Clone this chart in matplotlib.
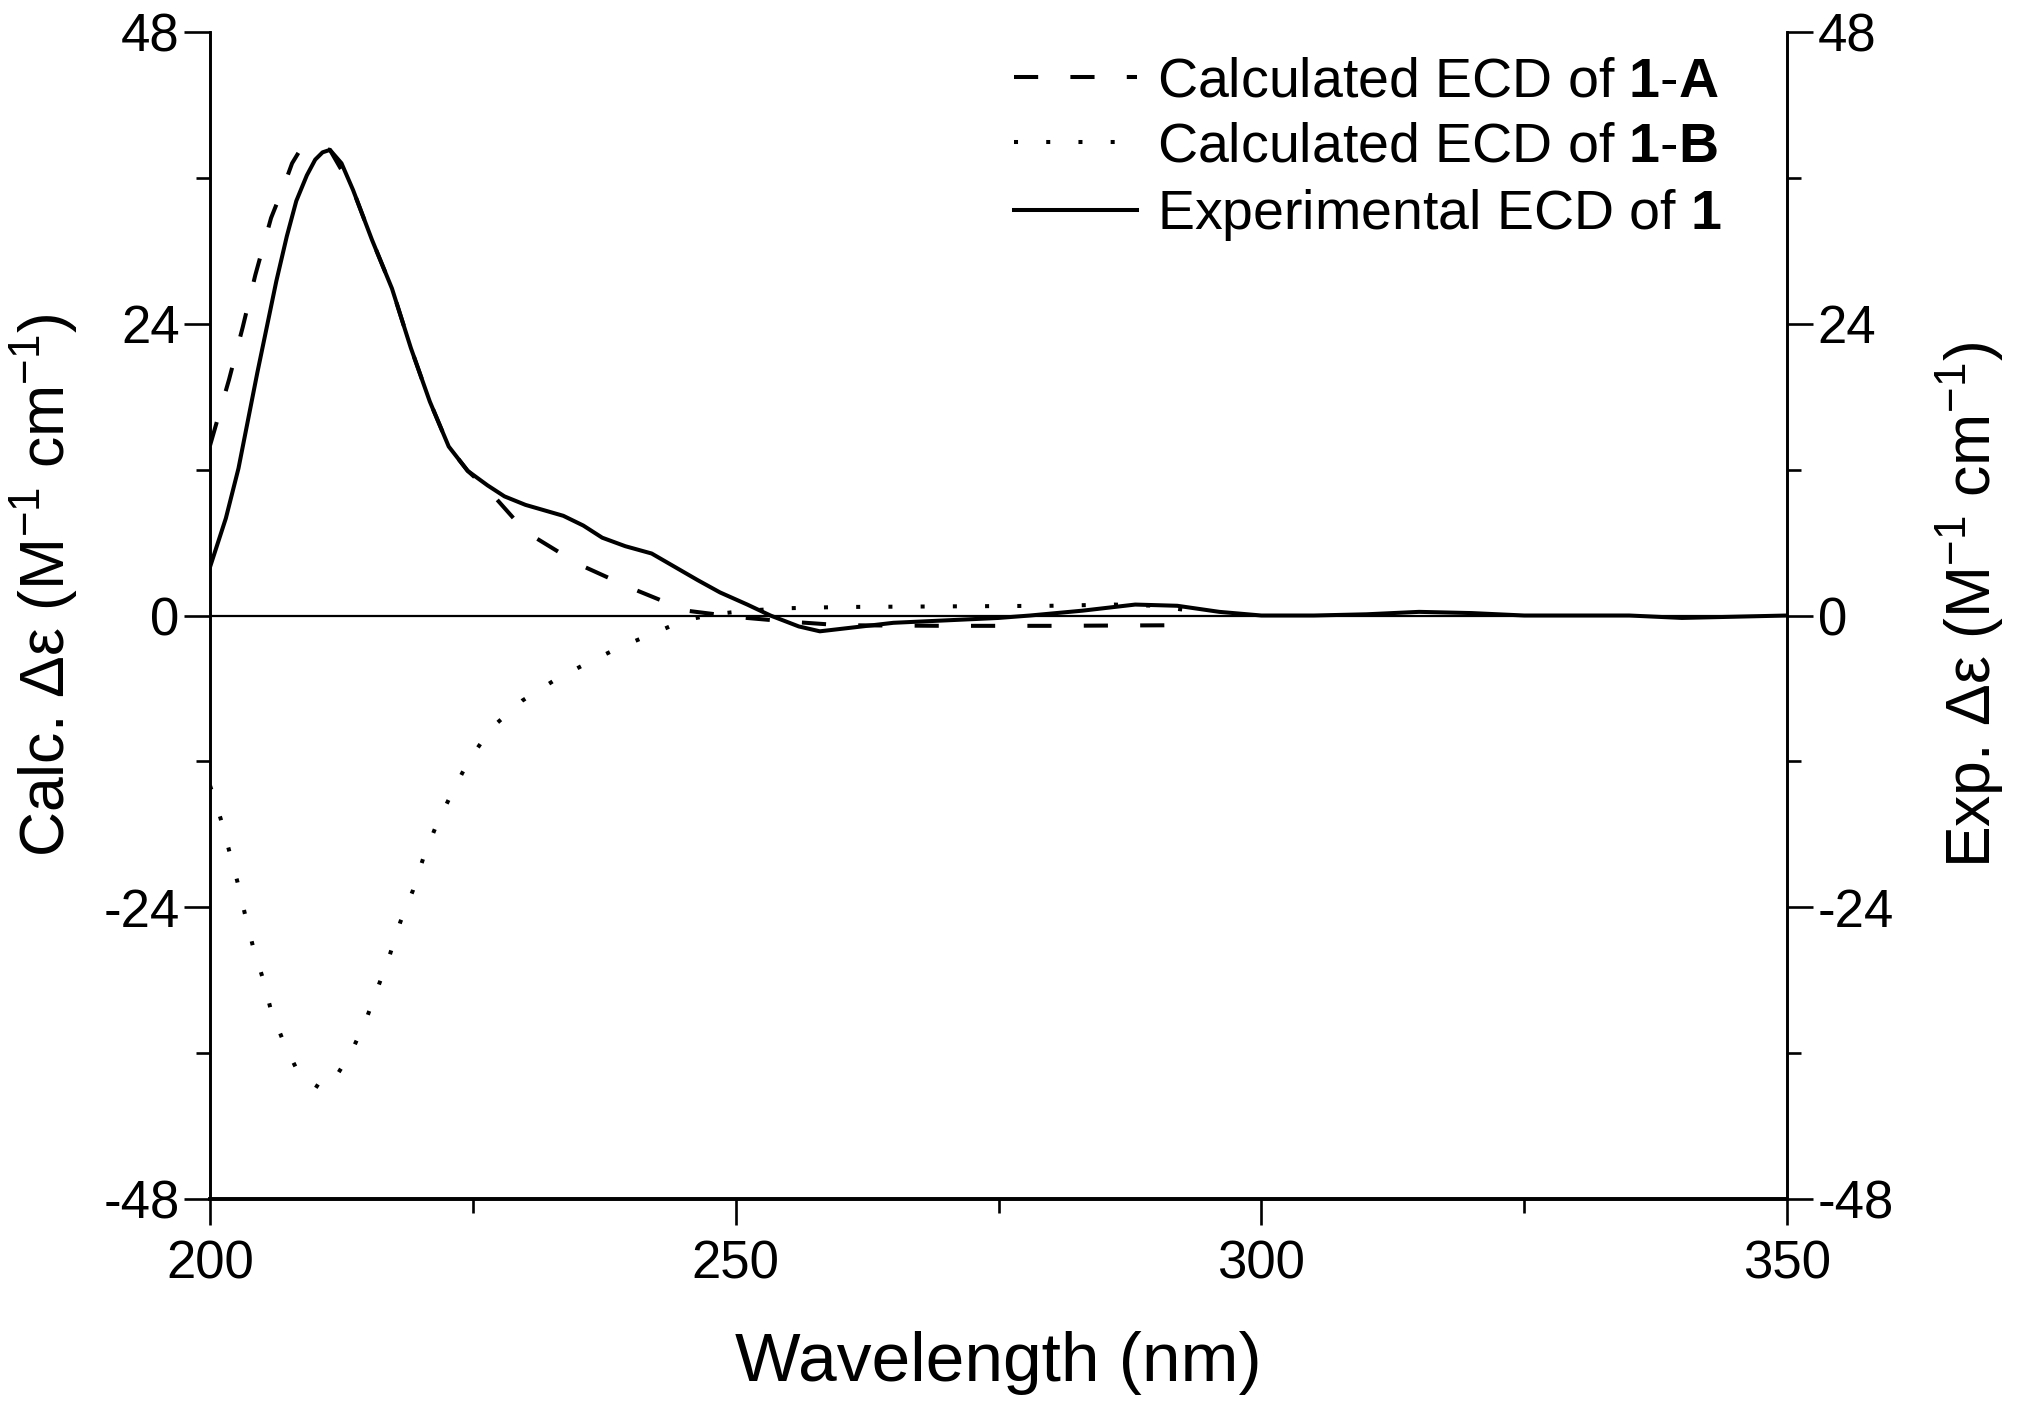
import matplotlib
matplotlib.use("Agg")
import matplotlib.pyplot as plt
from matplotlib.ticker import MultipleLocator

plt.rcParams['font.family'] = ['Liberation Sans', 'DejaVu Sans']
plt.rcParams['mathtext.fontset'] = 'custom'
plt.rcParams['mathtext.rm'] = 'Liberation Sans'
plt.rcParams['mathtext.bf'] = 'Liberation Sans:bold'
plt.rcParams['mathtext.it'] = 'Liberation Sans:italic'
plt.rcParams['axes.unicode_minus'] = False

# experimental ECD of 1 (solid)
wl_exp = [200, 201.5, 202.7, 204.5, 206.3, 207.3, 208.2, 209.2, 210.0, 210.7, 211.4, 212.5,
          213.6, 215.4, 217.3, 219.1, 220.9, 222.7, 224.5, 226.4, 228.0, 230.0, 233.6, 235.5,
          237.3, 239.5, 242.0, 244.0, 246.4, 248.5, 251.1, 253.3, 256, 258, 261, 265, 270,
          275, 278, 283, 288, 292, 296, 300, 305, 310, 315, 320, 325, 330, 335, 340, 345, 350]
exp = [4.0, 8.0, 12.1, 20.0, 27.5, 31.2, 34.1, 36.2, 37.5, 38.1, 38.3, 37.2,
       35.0, 30.9, 26.9, 22.0, 17.6, 13.9, 11.9, 10.7, 9.8, 9.1, 8.2, 7.4,
       6.4, 5.7, 5.1, 4.1, 2.9, 1.9, 0.9, 0.0, -0.9, -1.3, -1.0, -0.6, -0.4,
       -0.2, 0.0, 0.4, 0.9, 0.8, 0.3, 0.0, 0.0, 0.1, 0.3, 0.2, 0.0, 0.0, 0.0, -0.2, -0.1, 0.0]

# calculated ECD of 1-A (dashed)
wl_a = [200, 201.8, 203.1, 204.3, 205.8, 207.0, 207.8, 208.5, 209.3, 210.0, 211.4, 213.6,
        215.4, 217.3, 219.1, 220.9, 222.7, 224.5, 226.4, 230.0, 235.1, 240.2, 245.3, 250.4,
        255, 260, 270, 280, 292]
calc_a = [14.0, 19.4, 23.7, 28.0, 32.7, 35.3, 37.2, 38.2, 38.6, 38.6, 38.3, 35.0,
          30.9, 26.9, 22.0, 17.6, 13.9, 11.9, 10.4, 6.9, 4.2, 2.2, 0.4, -0.15,
          -0.5, -0.8, -0.85, -0.85, -0.8]

# calculated ECD of 1-B (dotted)
wl_b = [200, 201, 201.8, 202.6, 203.3, 204.1, 205.0, 205.8, 207.0, 208.5, 210.5, 211.5,
        213.5, 214.9, 216.0, 217.1, 218.1, 219.3, 220.3, 221.5, 223.0, 224.5, 226.7, 229.7,
        232.8, 235.9, 239.0, 242.1, 245.1, 248, 251, 255, 260, 270, 280, 286, 290, 294]
calc_b = [-14.0, -16.7, -19.3, -21.9, -24.5, -27.3, -29.8, -32.5, -35.1, -37.8, -38.9, -38.6,
          -35.8, -33.1, -30.5, -27.9, -25.2, -22.6, -19.9, -17.3, -14.6, -12.1, -9.3, -7.0,
          -5.3, -3.9, -2.6, -1.5, -0.4, 0.1, 0.4, 0.6, 0.7, 0.75, 0.8, 0.9, 0.8, 0.3]

yticks = [-48, -24, 0, 24, 48]

fig = plt.figure(figsize=(20.22, 14.21), dpi=100)
ax = fig.add_axes([0.1039, 0.1562, 0.7799, 0.8213])
ax2 = ax.twinx()

lw = 2.9
la, = ax.plot(wl_a, calc_a, color="black", lw=lw, linestyle=(0, (6, 8)),
              label=r"Calculated ECD of $\mathbf{1}$-$\mathbf{A}$")
lb, = ax.plot(wl_b, calc_b, color="black", lw=lw, linestyle=(0, (1, 7)),
              label=r"Calculated ECD of $\mathbf{1}$-$\mathbf{B}$")
le, = ax2.plot(wl_exp, exp, color="black", lw=lw, linestyle="-",
               label=r"Experimental ECD of $\mathbf{1}$")
ax.axhline(0, color="black", lw=1.6, zorder=0)

for a in (ax, ax2):
    a.set_xlim(200, 350)
    a.set_ylim(-48, 48)
    a.set_yticks(yticks)
    a.yaxis.set_minor_locator(MultipleLocator(12))
    a.spines["top"].set_visible(False)
    a.spines["left"].set_linewidth(1.9)
    a.spines["right"].set_linewidth(1.9)
    a.spines["bottom"].set_linewidth(2.6)
    a.tick_params(which="major", direction="out", length=19, width=1.9, labelsize=38, pad=3)
    a.tick_params(which="minor", direction="out", length=10, width=1.9)

ax.set_xticks([200, 250, 300, 350])
ax.xaxis.set_minor_locator(MultipleLocator(25))
ax.tick_params(axis="x", which="major", pad=10)

ax.set_xlabel("Wavelength (nm)", fontsize=50, labelpad=30)
ax.set_ylabel(r"Calc. Δε (M$^{-1}$ cm$^{-1}$)", fontsize=45)
ax2.set_ylabel(r"Exp. Δε (M$^{-1}$ cm$^{-1}$)", fontsize=45, rotation=90)
ax.yaxis.set_label_coords(-0.0824, 0.526)
ax2.yaxis.set_label_coords(1.093, 0.509)

ax.legend(handles=[la, lb, le], loc="upper right", bbox_to_anchor=(0.973, 0.998),
          frameon=False, fontsize=40, handlelength=2.2, handletextpad=0.37,
          labelspacing=0.24, borderaxespad=0)

fig.savefig("out.png", dpi=100)
